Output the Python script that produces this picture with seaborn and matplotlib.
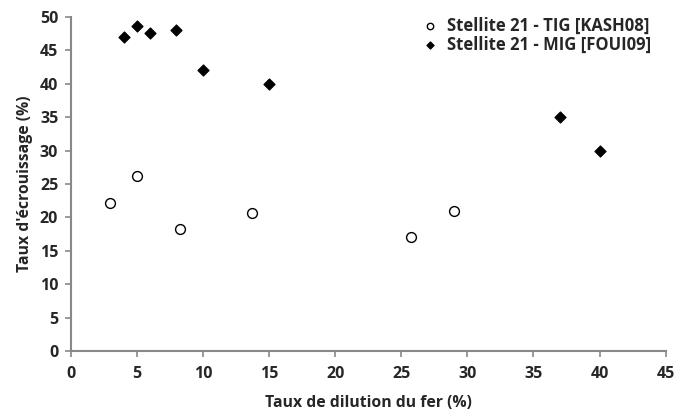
import matplotlib
matplotlib.use("Agg")
import matplotlib.pyplot as plt
import seaborn as sns
import pandas as pd

# Stellite 21 - TIG [KASH08]
tig_x = [3, 5, 8.3, 13.7, 25.7, 29]
tig_y = [22.2, 26.2, 18.2, 20.6, 17.0, 21.0]
# Stellite 21 - MIG [FOUI09]
mig_x = [4, 5, 6, 8, 10, 15, 37, 40]
mig_y = [47.0, 48.7, 47.6, 48.0, 42.0, 40.0, 35.0, 30.0]

x_ticks = list(range(0, 50, 5))
y_ticks = list(range(0, 55, 5))

df_tig = pd.DataFrame({"x": tig_x, "y": tig_y})
df_mig = pd.DataFrame({"x": mig_x, "y": mig_y})

sns.set_style("white")
plt.rcParams["font.family"] = ["Open Sans", "DejaVu Sans"]

fig = plt.figure(figsize=(6.8, 4.12), dpi=100)
ax = fig.add_axes([0.104, 0.148, 0.875, 0.811])

sns.scatterplot(data=df_tig, x="x", y="y", ax=ax, marker="o", s=50,
                facecolor="white", edgecolor="black", linewidth=1,
                label="Stellite 21 - TIG [KASH08]")
sns.scatterplot(data=df_mig, x="x", y="y", ax=ax, marker="D", s=32,
                color="black", edgecolor="black", linewidth=0.8,
                label="Stellite 21 - MIG [FOUI09]")

ax.set_xlim(0, 45)
ax.set_ylim(0, 50)
ax.set_xticks(x_ticks)
ax.set_yticks(y_ticks)
ax.tick_params(axis="both", direction="out", length=4, width=1.2, color="#888888",
               labelsize=11.5, pad=5, bottom=True, left=True)
ax.tick_params(axis="x", pad=7)
for lbl in ax.get_xticklabels() + ax.get_yticklabels():
    lbl.set_fontweight("bold")

for side in ["top", "right"]:
    ax.spines[side].set_visible(False)
for side in ["left", "bottom"]:
    ax.spines[side].set_color("#888888")
    ax.spines[side].set_linewidth(1.5)

ax.set_xlabel("Taux de dilution du fer (%)", fontsize=11.3, fontweight="bold", labelpad=9)
ax.set_ylabel("Taux d'écrouissage (%)", fontsize=11.3, fontweight="bold", labelpad=5)

leg = ax.legend(loc="upper right", bbox_to_anchor=(1.0, 1.045), frameon=False,
                handletextpad=0.0, labelspacing=0.05, markerscale=0.65,
                prop={"weight": "bold", "size": 12})

fig.savefig("out.png", dpi=100)
